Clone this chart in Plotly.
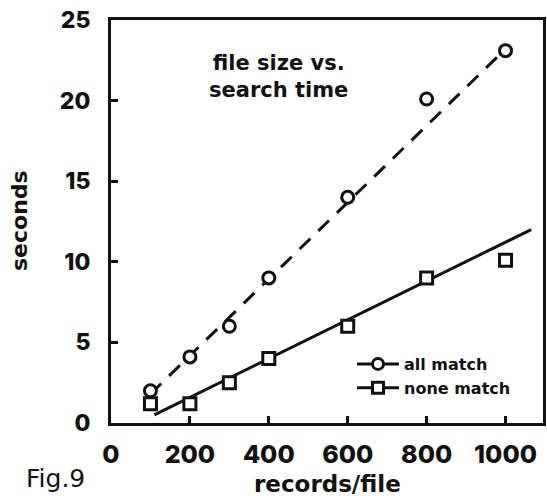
import plotly.graph_objects as go

records = [100, 200, 300, 400, 600, 800, 1000]
all_match = [2.0, 4.1, 6.0, 9.0, 14.0, 20.1, 23.1]
none_match = [1.2, 1.2, 2.5, 4.0, 6.0, 9.0, 10.1]

# hand-drawn fit lines (end points)
all_fit_x = [100, 1000]
all_fit_y = [1.8, 23.2]
none_fit_x = [110, 1065]
none_fit_y = [0.5, 12.0]

x_ticks = [0, 200, 400, 600, 800, 1000]
y_ticks = [0, 5, 10, 15, 20, 25]

NUM_FONT = "Inter"
TXT_FONT = "DejaVu Sans"
BLACK = "#111111"

fig = go.Figure()

fig.add_trace(go.Scatter(
    x=all_fit_x, y=all_fit_y, mode="lines",
    line=dict(color=BLACK, width=3, dash="15px,11px"),
    showlegend=False, hoverinfo="skip",
))
fig.add_trace(go.Scatter(
    x=none_fit_x, y=none_fit_y, mode="lines",
    line=dict(color=BLACK, width=3),
    showlegend=False, hoverinfo="skip",
))
fig.add_trace(go.Scatter(
    x=records, y=all_match, mode="markers", name="all match",
    marker=dict(symbol="circle", size=12, color="white",
                line=dict(color=BLACK, width=3)),
    showlegend=False,
))
fig.add_trace(go.Scatter(
    x=records, y=none_match, mode="markers", name="none match",
    marker=dict(symbol="square", size=12, color="white",
                line=dict(color=BLACK, width=3)),
    showlegend=False,
))

# legend entries
for name, sym in [("all match", "circle"), ("none match", "square")]:
    fig.add_trace(go.Scatter(
        x=[None], y=[None], mode="lines+markers", name=name,
        line=dict(color=BLACK, width=3),
        marker=dict(symbol=sym, size=11, color="white",
                    line=dict(color=BLACK, width=3)),
    ))

axis_common = dict(
    showline=True, linecolor=BLACK, linewidth=3, mirror=True,
    ticks="inside", ticklen=7, tickwidth=2.5, tickcolor=BLACK,
    showgrid=False, zeroline=False, automargin=False,
)

fig.update_xaxes(range=[0, 1095], tickvals=x_ticks, ticklabelstandoff=7,
                 tickfont=dict(family=NUM_FONT, size=25, color=BLACK, weight=800),
                 **axis_common)
fig.update_yaxes(range=[0, 25], tickvals=y_ticks, ticklabelstandoff=13,
                 tickfont=dict(family=NUM_FONT, size=23, color=BLACK, weight=800),
                 **axis_common)

plot_w = 547 - 111 - 4
plot_h = 499 - 20 - 76


def px(x):
    return (x - 111) / plot_w


def py(y):
    return (423 - y) / plot_h


fig.update_layout(
    width=547, height=499,
    margin=dict(l=111, r=4, t=20, b=76),
    plot_bgcolor="white", paper_bgcolor="white",
    font=dict(family=TXT_FONT, color=BLACK),
    legend=dict(
        x=px(352), y=py(347), xanchor="left", yanchor="top",
        bgcolor="rgba(0,0,0,0)", itemwidth=42, tracegroupgap=0,
        font=dict(family=TXT_FONT, size=16, color=BLACK, weight="bold"),
    ),
    annotations=[
        dict(text="file size vs.<br>search time", x=px(278), y=py(76),
             xanchor="center", yanchor="middle",
             xref="paper", yref="paper", showarrow=False,
             font=dict(family=TXT_FONT, size=21, color=BLACK, weight="bold")),
        dict(text="seconds", x=px(19), y=py(221), xref="paper", yref="paper",
             xanchor="center", yanchor="middle",
             showarrow=False, textangle=-90,
             font=dict(family=TXT_FONT, size=22, color=BLACK, weight="bold")),
        dict(text="records/file", x=px(327), y=py(484), xref="paper", yref="paper",
             xanchor="center", yanchor="middle", showarrow=False,
             font=dict(family=TXT_FONT, size=23, color=BLACK, weight="bold")),
        dict(text="Fig.9", x=px(56), y=py(478), xref="paper", yref="paper",
             xanchor="center", yanchor="middle", showarrow=False,
             font=dict(family=TXT_FONT, size=25, color=BLACK)),
    ],
)

fig.write_html("out.html", config={"displayModeBar": False},
               post_script="document.body.style.margin='0';")
